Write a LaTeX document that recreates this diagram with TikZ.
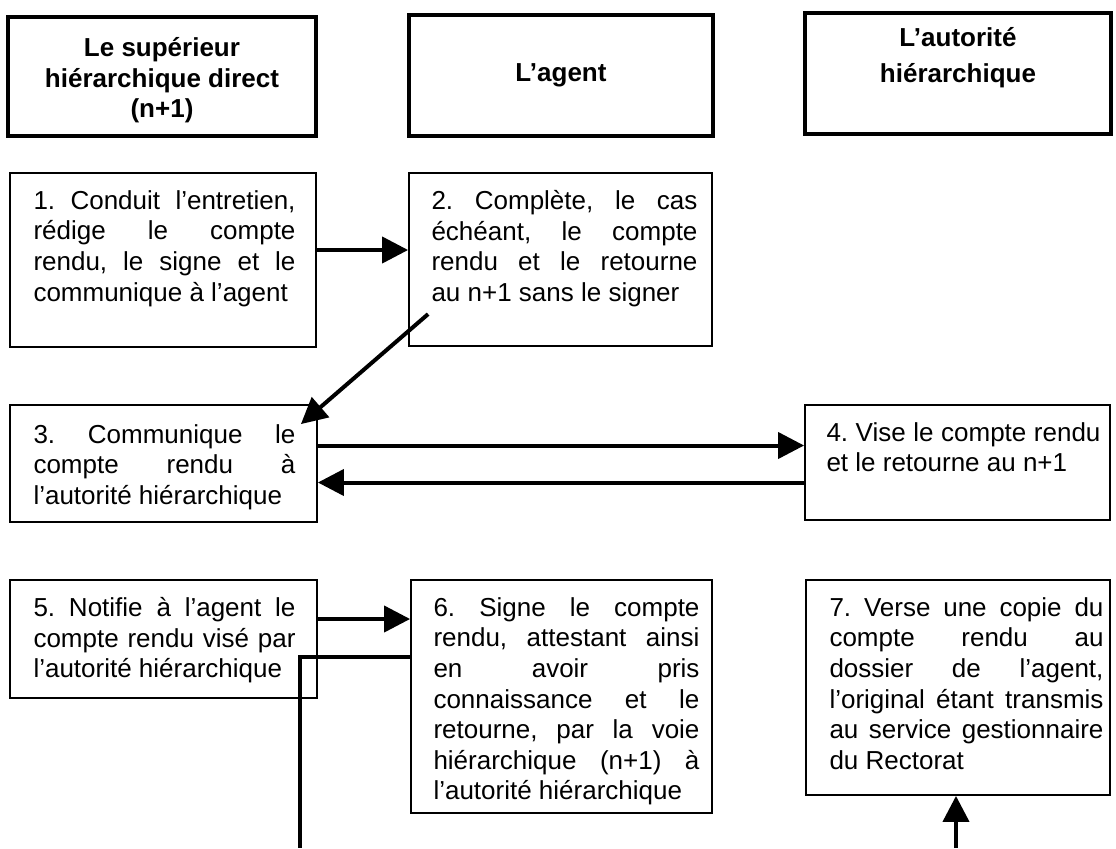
\documentclass[tikz,border=0pt]{standalone}
\usepackage{fontspec}
\setmainfont{Liberation Sans}
\usetikzlibrary{arrows.meta,positioning,calc}
\tolerance=10000
\hyphenpenalty=10000
\exhyphenpenalty=10000
\frenchspacing

\tikzset{
  entete/.style={draw, line width=2pt, align=center, inner sep=0pt,
    font=\bfseries\fontsize{13}{15.3}\selectfont},
  cadre/.style={draw, line width=0.9pt, inner sep=0pt},
  texte/.style={anchor=north west, inner sep=0pt, align=justify,
    font=\fontsize{13}{15.3}\selectfont},
  fleche/.style={line width=2pt, -{Triangle[length=13pt,width=13pt]}},
  trait/.style={line width=2pt},
}

\begin{document}
\begin{tikzpicture}[x=0.5pt, y=-0.5pt]
  \useasboundingbox (0,0) rectangle (1116,848);

  % en-tetes
  \node[entete, minimum width=154pt, minimum height=59.5pt, text height=44pt] (h1) at (162,76.5)
    {Le supérieur\\hiérarchique direct\\(n+1)};
  \node[entete, minimum width=152pt, minimum height=60.5pt] (h2) at (561,75.5) {L’agent};
  \node[entete, minimum width=153pt, minimum height=60.5pt, text depth=18.5pt] (h3) at (958,73.5)
    {L’autorité\\[2.5pt]hiérarchique};

  % etapes
  \node[cadre, minimum width=153pt, minimum height=87pt] (b1) at (163,260) {};
  \node[cadre, minimum width=151.5pt, minimum height=86.5pt] (b2) at (560.5,259.5) {};
  \node[cadre, minimum width=153.5pt, minimum height=58.5pt] (b3) at (163.5,463.5) {};
  \node[cadre, minimum width=152.5pt, minimum height=57.5pt] (b4) at (957.5,462.5) {};
  \node[cadre, minimum width=153.5pt, minimum height=59pt] (b5) at (163.5,639) {};
  \node[cadre, minimum width=150.5pt, minimum height=116.5pt] (b6) at (561.5,696.5) {};
  \node[cadre, minimum width=152pt, minimum height=107.5pt] (b7) at (958,687.5) {};

  \node[texte, text width=131pt] (t1) at ([shift={(24,18)}]b1.north west)
    {1. Conduit l’entretien,\linebreak rédige le compte\linebreak rendu, le signe et le\linebreak communique à l’agent};
  \node[texte, text width=133pt] (t2) at ([shift={(23,18)}]b2.north west)
    {2. Complète, le cas\linebreak échéant, le compte\linebreak rendu et le retourne\linebreak au n+1 sans le signer};
  \node[texte, text width=131pt] (t3) at ([shift={(24,20)}]b3.north west)
    {3. Communique le\linebreak compte rendu à\linebreak l’autorité hiérarchique};
  \node[texte, text width=137pt] (t4) at ([shift={(22,18)}]b4.north west)
    {4. Vise le compte rendu\linebreak et le retourne au n+1};
  \node[texte, text width=131pt] (t5) at ([shift={(24,18)}]b5.north west)
    {5. Notifie à l’agent le\linebreak compte rendu visé par\linebreak l’autorité hiérarchique};
  \node[texte, text width=133pt] (t6) at ([shift={(23,18)}]b6.north west)
    {6. Signe le compte\linebreak rendu, attestant ainsi\linebreak en avoir pris\linebreak connaissance et le\linebreak retourne, par la voie\linebreak hiérarchique (n+1) à\linebreak l’autorité hiérarchique};
  \node[texte, text width=137pt] (t7) at ([shift={(24,18)}]b7.north west)
    {7. Verse une copie du\linebreak compte rendu au\linebreak dossier de l’agent,\linebreak l’original étant transmis\linebreak au service gestionnaire\linebreak du Rectorat};

  \coordinate (bas5) at (300,848);
  \coordinate (bas7) at (956,848);

  % fleches
  \draw[fleche] ([yshift=5pt]b1.east) -- ([yshift=5pt]b1.east -| b2.west);
  \draw[fleche] ([shift={(20,142)}]b2.north west) -- ([shift={(-17,20)}]b3.north east);
  \draw[fleche] ([yshift=9pt]b3.east) -- ([yshift=9pt]b3.east -| b4.west);
  \draw[fleche] ([yshift=-10pt]b4.west) -- ([yshift=-10pt]b4.west -| b3.east);
  \draw[fleche] ([yshift=10pt]b5.east) -- ([yshift=10pt]b5.east -| b6.west);
  \draw[trait] ([yshift=19.75pt]b6.west) -| (bas5);
  \draw[fleche] (bas7) -- (bas7 |- b7.south);
\end{tikzpicture}
\end{document}
